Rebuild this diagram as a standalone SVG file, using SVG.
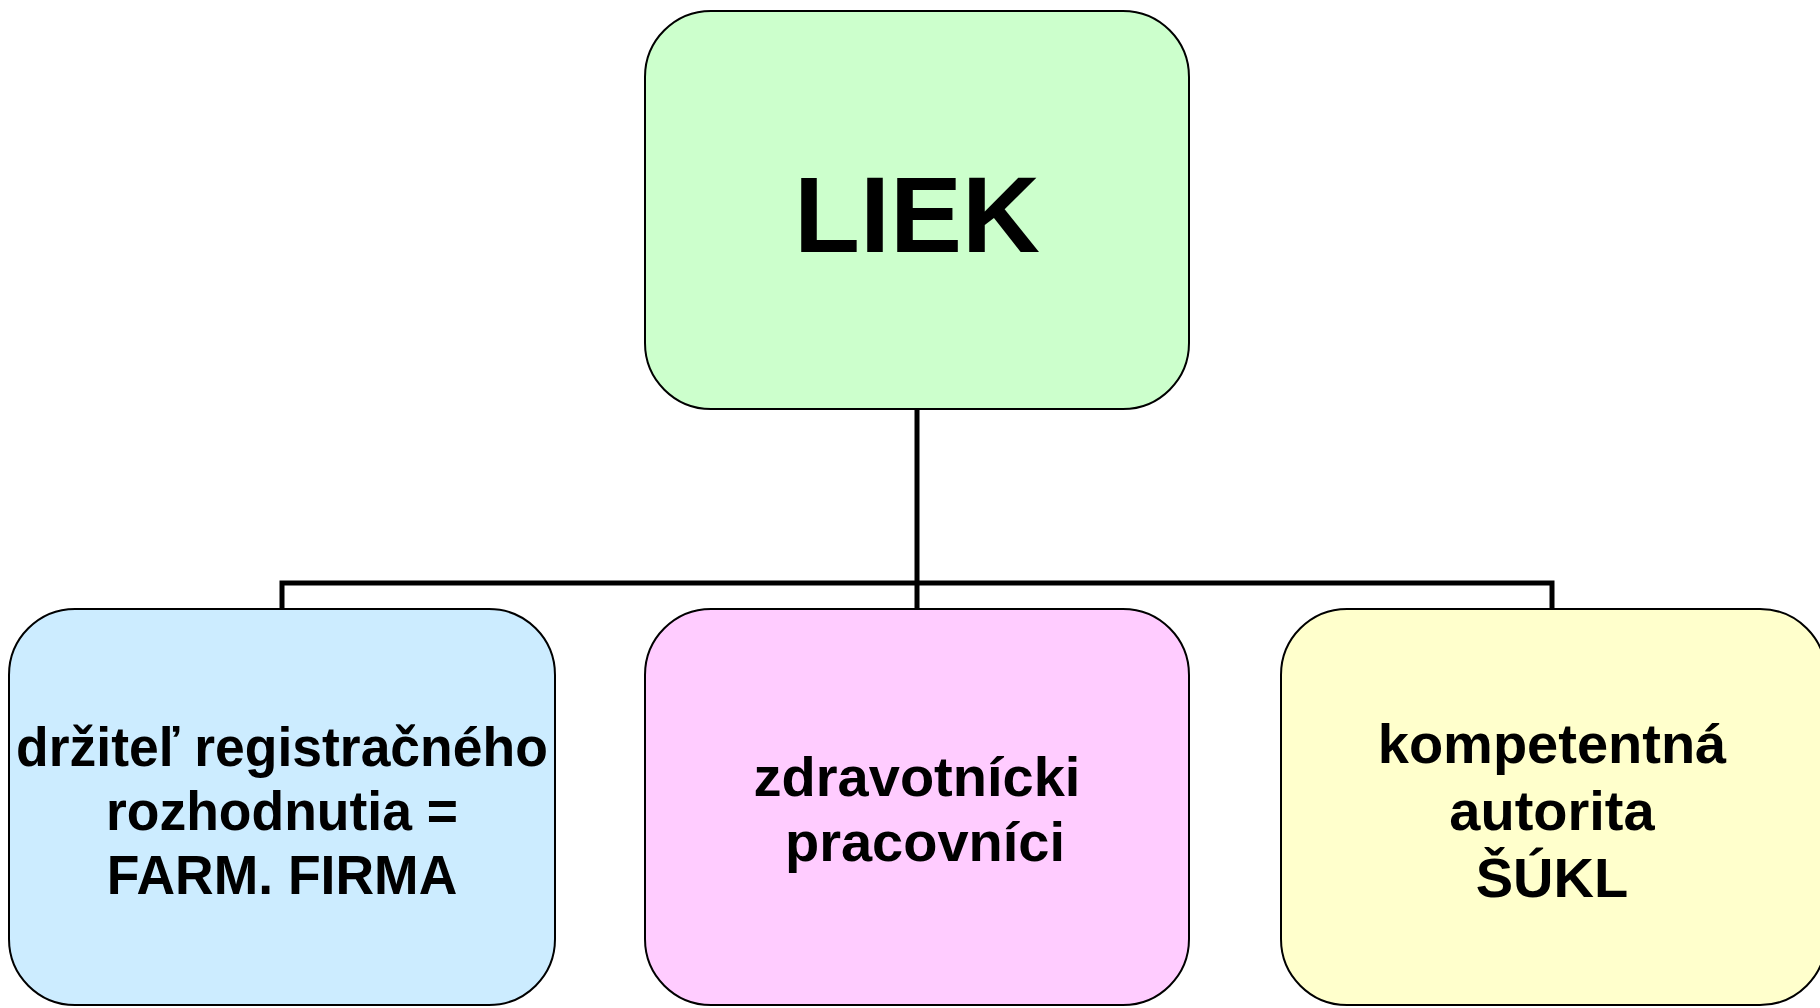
<svg xmlns="http://www.w3.org/2000/svg" width="1820" height="1008" viewBox="0 0 1820 1008">
<style>
.box{stroke:#000;stroke-width:2}
.t{font-family:"Liberation Sans",Arial,sans-serif;font-weight:bold;fill:#000;text-anchor:middle}
.s{font-size:56px}
.conn{fill:none;stroke:#000;stroke-width:5}
</style>
<rect width="1820" height="1008" fill="#fff"/>
<g id="connectors">
<path class="conn" d="M917,409 V583 M282,609 V583 H1552 V609 M917,583 V609"/>
</g>
<g id="liek">
<rect class="box" x="645" y="11" width="544" height="398" rx="66" ry="66" fill="#CCFFCC"/>
<text class="t" x="917" y="252" font-size="108">LIEK</text>
</g>
<g id="drzitel">
<rect class="box" x="9" y="609" width="546" height="396" rx="66" ry="66" fill="#CCECFF"/>
<g transform="translate(282,0) scale(0.955,1) translate(-282,0)">
<text class="t s" x="282" y="766">držiteľ registračného</text>
<text class="t s" x="282" y="830">rozhodnutia =</text>
<text class="t s" x="282" y="894">FARM. FIRMA</text>
</g>
</g>
<g id="zdravotnicki">
<rect class="box" x="645" y="609" width="544" height="396" rx="66" ry="66" fill="#FFCCFF"/>
<text class="t s" x="917" y="796">zdravotnícki</text>
<text class="t s" x="925" y="861">pracovníci</text>
</g>
<g id="sukl">
<rect class="box" x="1281" y="609" width="545" height="396" rx="66" ry="66" fill="#FFFFCC"/>
<text class="t s" x="1552" y="763">kompetentná</text>
<text class="t s" x="1552" y="830">autorita</text>
<text class="t s" x="1552" y="897">ŠÚKL</text>
</g>
</svg>
